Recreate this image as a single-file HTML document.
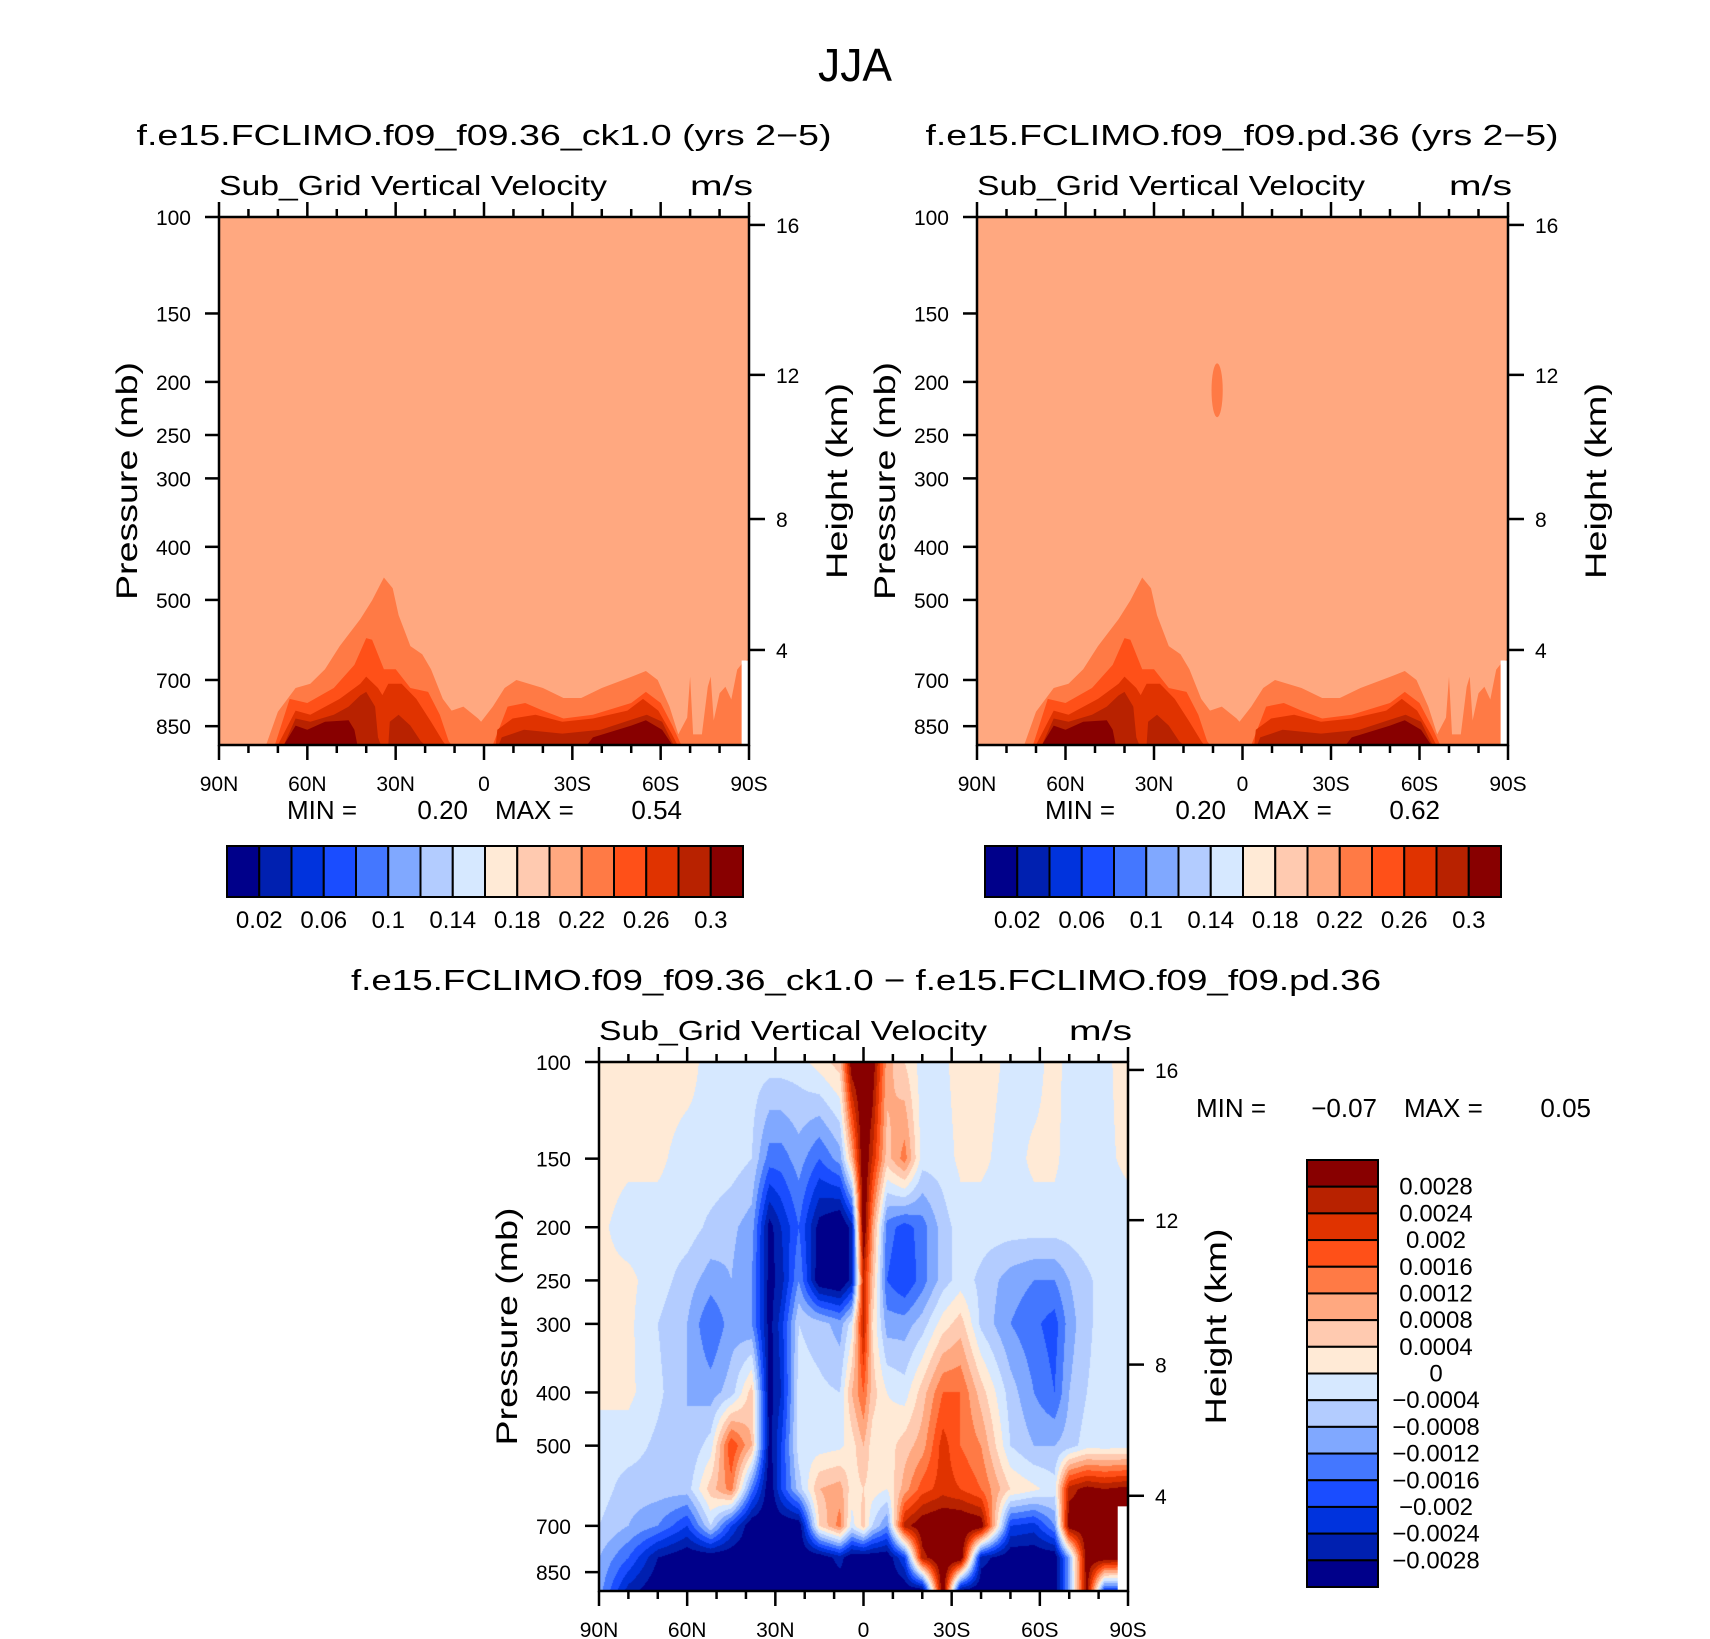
<!DOCTYPE html>
<html><head><meta charset="utf-8">
<style>
html,body{margin:0;padding:0;background:#fff;}
#wrap{position:relative;width:1710px;height:1639px;overflow:hidden;background:#fff;}
#cv3{position:absolute;left:599px;top:1062px;}
#chart{position:absolute;left:0;top:0;}
text{font-family:"Liberation Sans",sans-serif;fill:#000;}
</style></head>
<body>
<div id="wrap">
<canvas id="cv3" width="529" height="529"></canvas>
<svg id="chart" width="1710" height="1639" xmlns="http://www.w3.org/2000/svg"></svg>
</div>
<script>
// ---------- data ----------
const colors=['#00008A','#0020B0','#0033DD','#1A4DFF','#4477FF','#80A8FF','#B3CCFF','#D6E8FF','#FFEAD6','#FFCAB0','#FFA880','#FF7A45','#FF5018','#E03300','#B82200','#880000'];
const topBarLabels=['0.02','0.06','0.1','0.14','0.18','0.22','0.26','0.3'];
const diffBarLabels=['0.0028','0.0024','0.002','0.0016','0.0012','0.0008','0.0004','0','\u22120.0004','\u22120.0008','\u22120.0012','\u22120.0016','\u22120.002','\u22120.0024','\u22120.0028'];
const pressureTicks=[100,150,200,250,300,400,500,700,850];
const latTicks=[90,60,30,0,-30,-60,-90];
const latTickLabels=['90N','60N','30N','0','30S','60S','90S'];
const heightTicks=['16','12','8','4'];

// panel 1/2 contour boundaries (lat, pressure mb)
const l1Lat=[74,70,64,59,54,49,42,38,34,31,29,25,21,18,14,11,7,2,1,-3,-7,-11,-20,-27,-33,-40,-50,-55,-59,-63,-66,-69,-70,-71,-74,-76,-77,-78,-80,-82,-84,-86,-88,-90];
const l1P=[920,800,724,711,669,607,542,501,455,476,533,607,628,669,758,796,783,823,834,783,724,700,724,755,755,724,691,674,700,783,880,820,690,880,880,720,690,830,740,720,760,670,650,640];
const l2aLat=[71,66,60,51,44,40,38,34,30,25,19,15,12,11];
const l2aP=[920,758,771,724,657,587,591,669,669,724,736,810,905,920];
const l2bLat=[-3,-8,-14,-20,-27,-37,-50,-55,-60,-64,-67];
const l2bP=[920,783,771,796,823,810,771,736,771,848,920];
const l3aLat=[70,64,59,49,42,40,36,34.5,32.5,28,23,18,14,13];
const l3aP=[920,796,810,758,711,690,724,746,711,711,758,834,905,920];
const l3bLat=[-4,-4.5,-9.7,-17.5,-26.6,-37,-48.7,-54,-59.2,-63.7,-65.7];
const l3bP=[920,863,823,810,834,823,796,758,796,877,920];
const l4aLat=[68,64,59,51,46,42,40,37,36,35];
const l4aP=[920,823,834,810,783,747,736,783,891,920];
const l4bLat=[32.5,32,29,25,21.5,20];
const l4bP=[920,834,810,848,905,920];
const l4cLat=[-5,-6,-13.6,-26.6,-39.6,-51.3,-55.3,-60.5,-63.7,-64.5];
const l4cP=[920,891,863,877,863,823,810,834,905,920];
const l5aLat=[68,64,60,54,46,44,43];
const l5aP=[920,848,863,834,829,863,920];
const l5bLat=[-35,-37,-50,-55,-60.5,-63.1,-64];
const l5bP=[920,891,848,829,863,905,920];
const blobLat=[10.5,8.6,6.7];
const blobP=[185,232];

// panel 3 grid (units 1e-4 m/s)
const lats3=[90,80,70,60,52,45,38,32,28,22,15,8,4,0,-3,-8,-14,-20,-27,-33,-40,-50,-58,-65,-70,-76,-82,-90];
const p3=[100,150,200,250,300,400,500,600,700,800,920];
const r100=[2,2,2,2,-2,-2,-2,-2,-2,-2,2,6,32,34,32,10,4,-2,-1,2,2,-1,-2,2,-2,0,-1,2];
const r150=[2,1,1,-2,-1,-2,-4,-14,-14,-10,-16,-10,8,34,24,6,14,-2,-2,1,1,-2,1,1,-2,-2,-1,1];
const r200=[1,-2,-2,-2,-5,-7,-10,-30,-24,-16,-30,-34,-26,34,12,-14,-18,-14,-6,-2,-2,-2,-2,-2,-2,-1,-2,-2];
const r250=[1,1,-2,-6,-10,-8,-12,-30,-26,-12,-32,-34,-26,24,8,-16,-20,-14,-6,-2,-5,-10,-12,-12,-8,-5,-2,-2];
const r300=[1,1,-4,-8,-16,-10,-12,-30,-22,-4,-6,-10,-2,26,4,-10,-10,-6,2,6,-5,-12,-15,-18,-10,-5,-2,-2];
const r400=[1,1,-3,-8,-10,-6,6,-30,-24,-2,-3,-4,8,16,6,0,-2,6,16,16,6,-6,-12,-16,-8,-4,-2,-2];
const r500=[-2,-2,-5,-8,-2,20,8,-30,-20,-2,-2,-1,2,8,2,2,6,10,22,16,12,-4,-8,-8,-6,-2,-2,-2];
const r600=[-2,-6,-6,-6,6,14,-14,-32,-20,-6,8,10,2,4,2,0,10,18,22,20,16,4,1,-2,26,30,28,30];
const r700=[-4,-8,-12,-20,-4,-20,-32,-32,-32,-32,4,14,-2,6,-4,-12,26,32,34,34,32,-20,-22,-12,32,32,32,32];
const r800=[-8,-16,-28,-32,-32,-32,-32,-32,-32,-32,-32,-26,-32,-32,-32,-32,-20,26,34,34,-26,-32,-32,-32,-10,32,32,30];
const r920=[-10,-26,-32,-32,-32,-32,-32,-32,-32,-32,-32,-32,-32,-32,-32,-32,-32,-32,34,-30,-32,-32,-32,-32,-10,30,-20,-20];
const rows3=[r100,r150,r200,r250,r300,r400,r500,r600,r700,r800,r920];

// ---------- helpers ----------
const NS='http://www.w3.org/2000/svg';
const svg=document.getElementById('chart');
const PB=920, LNB=Math.log(PB/100);
function mk(tag,attrs,parent){const e=document.createElementNS(NS,tag);for(const k in attrs)e.setAttribute(k,attrs[k]);(parent||svg).appendChild(e);return e;}
function xs(P,lat){return P.x+P.w*(90-lat)/180;}
function ys(P,p){return P.y+P.h*Math.log(p/100)/LNB;}
function txt(x,y,s,size,anchor,len,rot){
  const a={x:x,y:y,'font-size':size,'text-anchor':anchor||'start'};
  if(len){a.textLength=len;a.lengthAdjust='spacingAndGlyphs';}
  if(rot){a.transform='rotate(-90 '+x+' '+y+')';}
  const t=mk('text',a);t.textContent=s;return t;
}

const P1={x:219,y:217,w:530,h:528};
const P2={x:977,y:217,w:531,h:528};
const P3={x:599,y:1062,w:529,h:529};
const hFrac=[0.015,0.299,0.572,0.820];

function poly(P,lat,pr,col,g){
  let d='M'+xs(P,lat[0]).toFixed(1)+' '+ys(P,PB).toFixed(1);
  for(let i=0;i<lat.length;i++){d+=' L'+xs(P,lat[i]).toFixed(1)+' '+ys(P,pr[i]).toFixed(1);}
  d+=' L'+xs(P,lat[lat.length-1]).toFixed(1)+' '+ys(P,PB).toFixed(1)+' Z';
  return mk('path',{d:d,fill:col},g);
}

function drawTopPanel(P,id,blob){
  const g=mk('g',{});
  
  
  const bg=mk('rect',{x:P.x,y:P.y,width:P.w,height:P.h,fill:colors[10]},g);
  
  
  const sets=[[l1Lat,l1P,11],[l2aLat,l2aP,12],[l2bLat,l2bP,12],[l3aLat,l3aP,13],[l3bLat,l3bP,13],
    [l4aLat,l4aP,14],[l4bLat,l4bP,14],[l4cLat,l4cP,14],[l5aLat,l5aP,15],[l5bLat,l5bP,15]];
  sets.forEach(s=>{
    const e=poly(P,s[0],s[1],colors[s[2]],g);
    
    
  });
  if(blob){
    const cx=xs(P,blobLat[1]),rx=(xs(P,blobLat[2])-xs(P,blobLat[0]))/2;
    const y1=ys(P,blobP[0]),y2=ys(P,blobP[1]);
    const e=mk('ellipse',{cx:cx,cy:(y1+y2)/2,rx:rx,ry:(y2-y1)/2,fill:colors[11]},g);
    
    
  }
  const m=mk('rect',{x:xs(P,-87.5),y:ys(P,645),width:xs(P,-90)-xs(P,-87.5),height:P.y+P.h-ys(P,645),fill:'#fff'},g);
  
  
}

function drawAxes(P,id){
  const g=mk('g',{});
  
  
  const fr=mk('rect',{x:P.x,y:P.y,width:P.w,height:P.h,fill:'none',stroke:'#000','stroke-width':2.5},g);
  
  
  for(let lat=90;lat>=-90;lat-=10){
    const x=xs(P,lat),L=(lat%30===0)?15:8;
    mk('line',{x1:x,y1:P.y,x2:x,y2:P.y-L,stroke:'#000','stroke-width':2.5},g);
    mk('line',{x1:x,y1:P.y+P.h,x2:x,y2:P.y+P.h+L,stroke:'#000','stroke-width':2.5},g);
  }
  latTicks.forEach((lat,i)=>{
    const t=txt(xs(P,lat),P.y+P.h+46,latTickLabels[i],21,'middle');
    
    
  });
  pressureTicks.forEach(p=>{
    const y=ys(P,p);
    mk('line',{x1:P.x,y1:y,x2:P.x-14,y2:y,stroke:'#000','stroke-width':2.5},g);
    const t=txt(P.x-28,y+8,String(p),21,'end');
    
    
  });
  heightTicks.forEach((h,i)=>{
    const y=P.y+P.h*hFrac[i];
    mk('line',{x1:P.x+P.w,y1:y,x2:P.x+P.w+16,y2:y,stroke:'#000','stroke-width':2.5},g);
    const t=txt(P.x+P.w+27,y+8,h,21,'start');
    
    
  });
}

function drawColorbarH(x0,x1,y0,y1){
  const g=mk('g',{});
  
  
  const bw=(x1-x0)/16;
  colors.forEach((c,i)=>{
    const r=mk('rect',{x:x0+i*bw,y:y0,width:bw,height:y1-y0,fill:c,stroke:'#000','stroke-width':2},g);
    
    
  });
  topBarLabels.forEach((s,k)=>{
    const t=txt(x0+bw*(2*k+1),y1+31,s,24,'middle');
    
    
  });
}

// ---------- panel 1 & 2 ----------
drawTopPanel(P1,'panel-ck1',false);
drawTopPanel(P2,'panel-pd',true);

// ---------- panel 3 canvas ----------
(function(){
  const cv=document.getElementById('cv3');const ctx=cv.getContext('2d');
  const W=P3.w,H=P3.h;const img=ctx.createImageData(W,H);
  const lnP=p3.map(p=>Math.log(p));
  const rgb=colors.map(c=>[parseInt(c.substr(1,2),16),parseInt(c.substr(3,2),16),parseInt(c.substr(5,2),16)]);
  for(let py=0;py<H;py++){
    const lp=Math.log(100)+LNB*(py+0.5)/H;
    let j=0;while(j<lnP.length-2&&lp>lnP[j+1])j++;
    let t=(lp-lnP[j])/(lnP[j+1]-lnP[j]);t=Math.max(0,Math.min(1,t));
    for(let px=0;px<W;px++){
      const lat=90-180*(px+0.5)/W;
      let i=0;while(i<lats3.length-2&&lat<lats3[i+1])i++;
      let s=(lats3[i]-lat)/(lats3[i]-lats3[i+1]);s=Math.max(0,Math.min(1,s));
      const a=rows3[j][i],b=rows3[j][i+1],c=rows3[j+1][i],d=rows3[j+1][i+1];
      const v=(a*(1-s)+b*s)*(1-t)+(c*(1-s)+d*s)*t;
      let k=Math.floor(v/4)+8;k=Math.max(0,Math.min(15,k));
      const o=(py*W+px)*4;img.data[o]=rgb[k][0];img.data[o+1]=rgb[k][1];img.data[o+2]=rgb[k][2];img.data[o+3]=255;
    }
  }
  ctx.putImageData(img,0,0);
})();
const m3=mk('rect',{x:xs(P3,-86.5),y:ys(P3,645),width:xs(P3,-90)-xs(P3,-86.5),height:P3.y+P3.h-ys(P3,645),fill:'#fff'});



drawAxes(P1,'panel-ck1');
drawAxes(P2,'panel-pd');
drawAxes(P3,'panel-diff');

// ---------- texts ----------
let t;
t=txt(855,81,'JJA',46,'middle',74);


t=txt(484,145,'f.e15.FCLIMO.f09_f09.36_ck1.0 (yrs 2\u22125)',29,'middle',695);


t=txt(1242,145,'f.e15.FCLIMO.f09_f09.pd.36 (yrs 2\u22125)',29,'middle',633);


t=txt(866,990,'f.e15.FCLIMO.f09_f09.36_ck1.0 \u2212 f.e15.FCLIMO.f09_f09.pd.36',29,'middle',1030);



[[P1,195],[P2,195],[P3,1040]].forEach(a=>{
  const P=a[0];
  let e=txt(P.x,a[1],'Sub_Grid Vertical Velocity',28,'start',388);
  
  
  e=txt(P.x+P.w+4,a[1],'m/s',28,'end',63);
  
  
  e=txt(P.x-82,P.y+P.h*0.5,'Pressure (mb)',30,'middle',238,true);
  
  
  e=txt(P.x+P.w+98,P.y+P.h*0.5,'Height (km)',30,'middle',196,true);
  
  
});

function minmax(x,y,mn,mx){
  let e=txt(x,y,'MIN =',26,'start');
  
  
  e=txt(x+181,y,mn,26,'end');
  
  
  e=txt(x+208,y,'MAX =',26,'start');
  
  
  e=txt(x+395,y,mx,26,'end');
  
  
}
minmax(287,819,'0.20','0.54');
minmax(1045,819,'0.20','0.62');
minmax(1196,1117,'\u22120.07','0.05');

drawColorbarH(227,743,846,897);
drawColorbarH(985,1501,846,897);

// vertical colorbar
(function(){
  const g=mk('g',{});
  
  
  const y0=1160,y1=1587,x0=1307,x1=1378,bh=(y1-y0)/16;
  for(let i=0;i<16;i++){
    const r=mk('rect',{x:x0,y:y0+i*bh,width:x1-x0,height:bh,fill:colors[15-i],stroke:'#000','stroke-width':2},g);
    
    
  }
  diffBarLabels.forEach((s,k)=>{
    const e=txt(1436,y0+bh*(k+1)+8,s,24,'middle');
    
    
  });
})();
</script>
</body></html>
